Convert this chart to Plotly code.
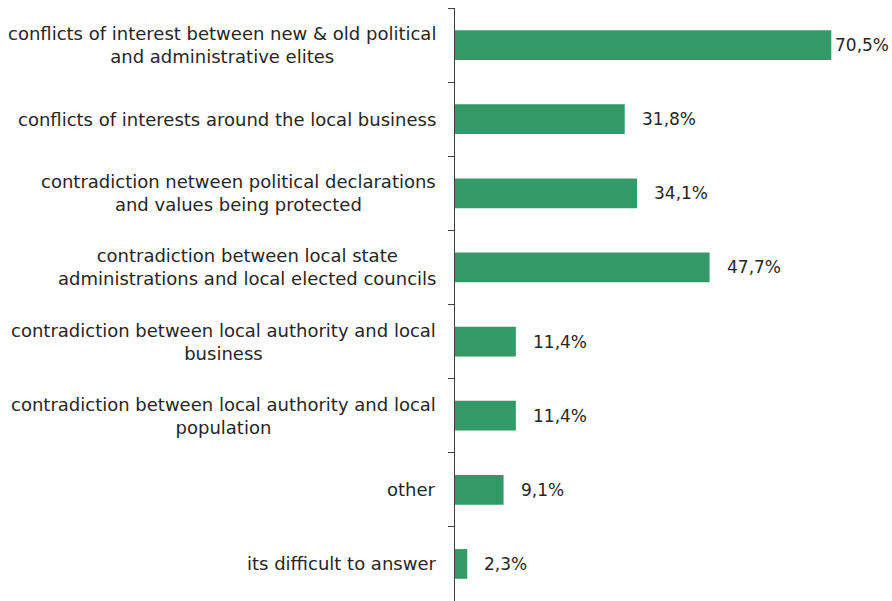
import plotly.graph_objects as go

categories = [
    "conflicts of interest between new & old political<br>and administrative elites",
    "conflicts of interests around the local business",
    "contradiction netween political declarations<br>and values being protected",
    "contradiction between local state<br>administrations and local elected councils",
    "contradiction between local authority and local<br>business",
    "contradiction between local authority and local<br>population",
    "other",
    "its difficult to answer",
]
values = [70.5, 31.8, 34.1, 47.7, 11.4, 11.4, 9.1, 2.3]
value_labels = ["70,5%", "31,8%", "34,1%", "47,7%", "11,4%", "11,4%", "9,1%", "2,3%"]

W, H = 892, 601
ML, MR, MT, MB = 455, 10, 8, 0
XMAX = 80
BAR = "#339966"
TXT = "#262626"
FONT = "DejaVu Sans, Verdana, sans-serif"

fig = go.Figure(go.Bar(
    x=values, y=categories, orientation="h",
    marker=dict(color=BAR, line=dict(width=0)),
    width=0.4, hoverinfo="skip",
))

px_per_unit = (W - ML - MR) / XMAX
annotations = []
# category labels, centred line by line, right edge just left of the axis ticks
for cat in categories:
    annotations.append(dict(
        x=0, xref="paper", y=cat, yref="y", text=cat,
        xanchor="right", yanchor="middle", align="center", xshift=-17,
        showarrow=False, font=dict(family=FONT, size=18, color=TXT),
    ))
# value labels just past the bar end, pulled back if they would leave the chart
for cat, v, lab in zip(categories, values, value_labels):
    label_w = 57
    left = ML + v * px_per_unit + 15
    shift = 15 - max(0, left + label_w - (W - 2))
    annotations.append(dict(
        x=v, xref="x", y=cat, yref="y",
        text=lab, xanchor="left", yanchor="middle", xshift=shift,
        showarrow=False, font=dict(family=FONT, size=17, color=TXT),
    ))

fig.update_layout(
    width=W, height=H,
    margin=dict(l=ML, r=MR, t=MT, b=MB),
    paper_bgcolor="white", plot_bgcolor="white",
    showlegend=False,
    annotations=annotations,
    xaxis=dict(range=[0, XMAX], visible=False, fixedrange=True),
    yaxis=dict(
        autorange="reversed", type="category",
        showticklabels=False, showgrid=False,
        showline=True, linecolor="#404040", linewidth=1,
        ticks="outside", tickson="boundaries", ticklen=6,
        tickcolor="#404040", tickwidth=1, zeroline=False,
    ),
)

fig.write_html("out.html")
